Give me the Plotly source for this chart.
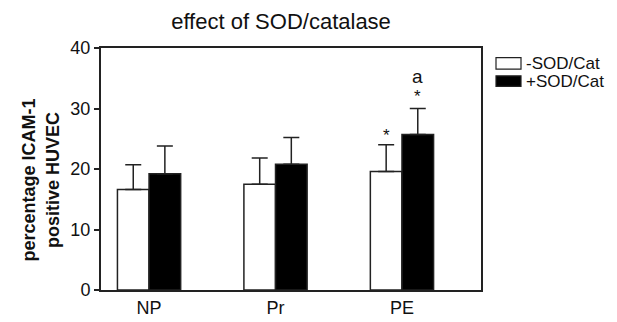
import plotly.graph_objects as go

categories = ["NP", "Pr", "PE"]
minus_sod = [16.6, 17.5, 19.6]
minus_err = [4.1, 4.3, 4.4]
plus_sod = [19.2, 20.8, 25.7]
plus_err = [4.6, 4.4, 4.3]
series_names = ["-SOD/Cat", "+SOD/Cat"]
y_ticks = [0, 10, 20, 30, 40]

FONT = "Liberation Sans, Arial, sans-serif"
LINE = "#222222"

fig = go.Figure()
for name, vals, errs, color in [
    (series_names[0], minus_sod, minus_err, "white"),
    (series_names[1], plus_sod, plus_err, "black"),
]:
    fig.add_trace(go.Bar(
        x=categories, y=vals, name=name,
        marker=dict(color=color, line=dict(color=LINE, width=1.5)),
        error_y=dict(type="data", array=errs, arrayminus=[0] * len(errs),
                     symmetric=False, color=LINE, thickness=1.5, width=8),
        showlegend=False,
    ))

fig.update_layout(
    width=617, height=322,
    margin=dict(l=93, r=144, t=40, b=30),
    paper_bgcolor="white", plot_bgcolor="white",
    barmode="group", bargap=0.5, bargroupgap=0,
    font=dict(family=FONT, size=18, color="#111"),
    title=dict(text="effect of SOD/catalase", x=273 / 617, xanchor="center",
               y=1 - 13 / 322, yanchor="middle", font=dict(size=22)),
    xaxis=dict(type="category", range=[-0.38, 2.625], showline=True,
               linecolor=LINE, linewidth=2, mirror=True, ticks="",
               showgrid=False, tickfont=dict(size=18)),
    yaxis=dict(range=[0, 40], tickvals=y_ticks, showline=True,
               linecolor=LINE, linewidth=2, mirror=True, ticks="outside",
               ticklen=5, tickwidth=1.5, tickcolor=LINE, showgrid=False,
               zeroline=False, tickfont=dict(size=18)),
)

# y-axis title
fig.add_annotation(
    text="<b>percentage ICAM-1<br>positive HUVEC</b>", textangle=-90,
    xref="paper", yref="paper", x=(33 - 93) / 380, y=(292 - 178) / 252,
    xanchor="center", yanchor="middle",
    showarrow=False, font=dict(size=18), align="center",
)

# significance marks (PE group)
pe = categories.index("PE")
off = 0.125
fig.add_annotation(text="*", x=pe - off, y=minus_sod[pe] + minus_err[pe], xref="x", yref="y",
                   showarrow=False, yanchor="bottom", yshift=-2, font=dict(size=17))
fig.add_annotation(text="*", x=pe + off, y=plus_sod[pe] + plus_err[pe], xref="x", yref="y",
                   showarrow=False, yanchor="bottom", yshift=1, font=dict(size=17))
fig.add_annotation(text="a", x=pe + off, y=plus_sod[pe] + plus_err[pe], xref="x", yref="y",
                   showarrow=False, yanchor="bottom", yshift=20, font=dict(size=19))

# manual legend
legend_items = [(series_names[0], "white", 50, 62), (series_names[1], "black", 69, 80)]
for name, color, y0, y1 in legend_items:
    fig.add_shape(type="rect", xref="paper", yref="paper",
                  x0=(488 - 93) / 380, x1=(513 - 93) / 380,
                  y0=(292 - y1) / 252, y1=(292 - y0) / 252,
                  line=dict(color=LINE, width=1.2), fillcolor=color)
    fig.add_annotation(text=name, xref="paper", yref="paper",
                       x=(517 - 93) / 380, y=(292 - (y0 + y1) / 2) / 252,
                       xanchor="left", yanchor="middle", showarrow=False,
                       font=dict(size=17), borderpad=0)

fig.write_html("out.html")
